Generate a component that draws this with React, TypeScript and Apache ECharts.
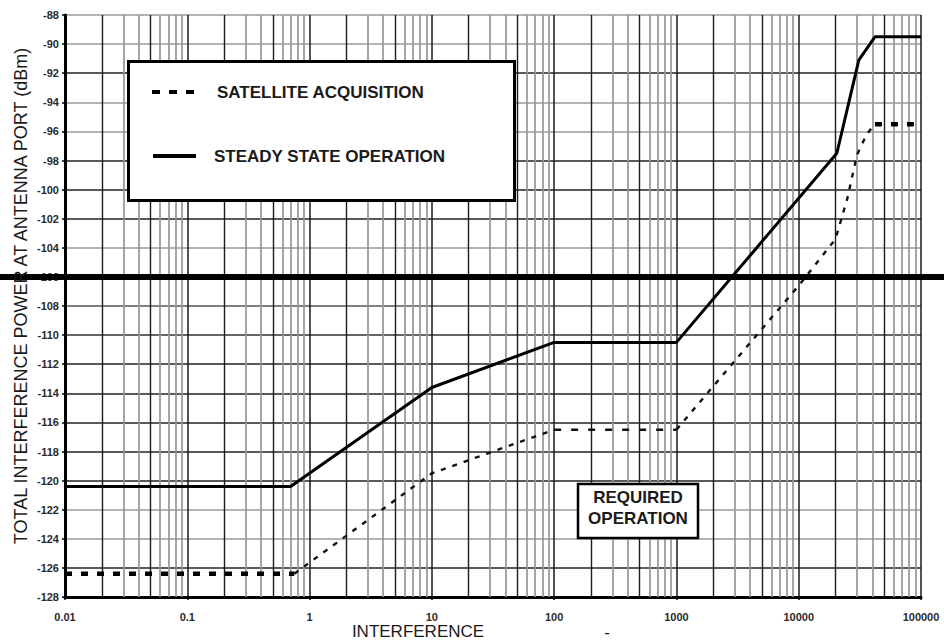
import React, { useEffect, useRef } from "react";
import * as echarts from "echarts";

// ---- data ----
const xMin = 0.01;
const xMax = 100000;
const yMin = -128;
const yMax = -88;
const yStep = 2;
const decadeStarts = [0.01, 0.1, 1, 10, 100, 1000, 10000];
const minorMultipliers = [2, 3, 4, 5, 6, 7, 8, 9];
const darkMinorMultipliers = [2, 5];

const steadyX = [0.01, 0.7, 10, 100, 1000, 20500, 31000, 42000, 100000];
const steadyY = [-120.4, -120.4, -113.6, -110.5, -110.5, -97.5, -91.1, -89.5, -89.5];

const satX = [0.01, 0.75, 10, 100, 1000, 10000, 20000, 25000, 30000, 36000, 42000, 100000];
const satY = [-126.4, -126.4, -119.5, -116.5, -116.5, -106.6, -103.4, -100.6, -97.6, -96.2, -95.5, -95.5];
// segments of the acquisition curve: [from index, to index, style name]
const satSegments: [number, number, string][] = [
  [0, 1, "heavy"],
  [1, 3, "dotted"],
  [3, 4, "medium"],
  [4, 10, "dotted"],
  [10, 11, "heavy"],
];

// horizontal grid colours, from -128 upward
const yGridColors = [
  "#111", "#222", "#9a9a9a", "#9a9a9a", "#222", "#222", "#222", "#222", "#222", "#333", "#555",
  "#111", "#9a9a9a", "#222", "#222", "#222", "#9a9a9a", "#9a9a9a", "#222", "#9a9a9a", "#9a9a9a",
];

const thresholdY = -106;
const legendLabels = ["SATELLITE ACQUISITION", "STEADY STATE OPERATION"];
const yTitle = "TOTAL INTERFERENCE POWER AT ANTENNA PORT (dBm)";
const xTitle = "INTERFERENCE";
const regionLabel = ["REQUIRED", "OPERATION"];

const FONT = '"Liberation Sans", Arial, Helvetica, sans-serif';

const segStyles: Record<string, any> = {
  heavy: { width: 4.5, type: [7, 9], color: "#000", cap: "butt" },
  medium: { width: 2.5, type: [7, 10], color: "#111", cap: "butt" },
  dotted: { width: 2.4, type: [5, 7], color: "#111", cap: "butt" },
};

function fmt(v: number) {
  return String(Number(v.toPrecision(6)));
}

export default function App() {
  const ref = useRef<HTMLDivElement>(null);

  useEffect(() => {
    document.body.style.margin = "0";
    if (!ref.current) return;
    const chart = echarts.init(ref.current, undefined, { renderer: "svg" });

    const minorLines: any[] = [];
    decadeStarts.forEach((d) => {
      minorMultipliers.forEach((m) => {
        const dark = darkMinorMultipliers.includes(m);
        minorLines.push({
          xAxis: Number((d * m).toPrecision(4)),
          lineStyle: {
            color: dark ? "#1c1c1c" : "#969696",
            width: dark ? 1.4 : 1.7,
            type: "solid",
          },
        });
      });
    });

    const satSeries = satSegments.map(([a, b, st], i) => ({
      type: "line",
      name: "SATELLITE ACQUISITION " + i,
      data: satX.slice(a, b + 1).map((x, k) => [x, satY[a + k]]),
      symbol: "none",
      lineStyle: segStyles[st],
      z: 5,
      silent: true,
    }));

    chart.setOption({
      animation: false,
      grid: { left: 65, right: 23, top: 15, bottom: 46 },
      xAxis: {
        type: "log",
        logBase: 10,
        min: xMin,
        max: xMax,
        splitNumber: 7,
        axisLine: { show: true, onZero: false, lineStyle: { color: "#000", width: 3 } },
        axisTick: { show: true, length: 3, lineStyle: { color: "#000", width: 1.5 } },
        axisLabel: {
          color: "#2a2a2a",
          fontSize: 11,
          fontWeight: "bold",
          fontFamily: FONT,
          margin: 14,
          formatter: (v: number) => fmt(v),
        },
        splitLine: { show: true, lineStyle: { color: "#1a1a1a", width: 1.5 } },
      },
      yAxis: {
        type: "value",
        min: yMin,
        max: yMax,
        interval: yStep,
        axisLine: { show: true, lineStyle: { color: "#000", width: 3 } },
        axisTick: { show: true, length: 3, lineStyle: { color: "#000", width: 1.5 } },
        axisLabel: {
          color: "#2a2a2a",
          fontSize: 11,
          fontWeight: "bold",
          fontFamily: FONT,
          margin: 6,
        },
        splitLine: { show: true, lineStyle: { color: yGridColors, width: 1.6 } },
      },
      series: [
        {
          type: "line",
          name: "grid",
          data: [],
          silent: true,
          z: 1,
          markLine: {
            silent: true,
            symbol: ["none", "none"],
            label: { show: false },
            animation: false,
            data: minorLines,
          },
        },
        {
          type: "line",
          name: "STEADY STATE OPERATION",
          data: steadyX.map((x, i) => [x, steadyY[i]]),
          symbol: "none",
          lineStyle: { color: "#000", width: 3 },
          z: 6,
          silent: true,
        },
        ...satSeries,
      ],
    });

    const yT = chart.convertToPixel({ yAxisIndex: 0 }, thresholdY) as number;
    const txt = (text: string, x: number, y: number, font: string, align = "left", extra: any = {}) => ({
      type: "text",
      x,
      y,
      z: 30,
      silent: true,
      ...extra,
      style: {
        text,
        font,
        fill: "#1a1a1a",
        textAlign: align,
        textVerticalAlign: "middle",
        align,
        verticalAlign: "middle",
      },
    });

    chart.setOption({
      graphic: [
        {
          type: "line",
          z: 10,
          silent: true,
          shape: { x1: 0, y1: yT, x2: 944, y2: yT },
          style: { stroke: "#000", lineWidth: 6 },
        },
        {
          type: "rect",
          z: 20,
          silent: true,
          shape: { x: 128.5, y: 61.5, width: 386, height: 139 },
          style: { fill: "#fff", stroke: "#000", lineWidth: 3 },
        },
        {
          type: "line",
          z: 25,
          silent: true,
          shape: { x1: 152, y1: 92, x2: 194, y2: 92 },
          style: { stroke: "#000", lineWidth: 4, lineDash: [8, 9] },
        },
        {
          type: "line",
          z: 25,
          silent: true,
          shape: { x1: 153, y1: 156, x2: 196, y2: 156 },
          style: { stroke: "#000", lineWidth: 4 },
        },
        txt(legendLabels[0], 217, 92, `bold 17px ${FONT}`),
        txt(legendLabels[1], 214, 156, `bold 17px ${FONT}`),
        {
          type: "rect",
          z: 20,
          silent: true,
          shape: { x: 578, y: 484, width: 120, height: 54 },
          style: { fill: "#fff", stroke: "#000", lineWidth: 2.5 },
        },
        txt(regionLabel[0], 638, 497, `bold 17px ${FONT}`, "center"),
        txt(regionLabel[1], 638, 518, `bold 17px ${FONT}`, "center"),
        txt(yTitle, 21, 296, `18px ${FONT}`, "center", { rotation: Math.PI / 2 }),
        txt(xTitle, 418, 631, `17px ${FONT}`, "center"),
        txt("-", 607, 632, `17px ${FONT}`, "center"),
      ],
    });

    return () => chart.dispose();
  }, []);

  return (
    <div
      ref={ref}
      style={{ position: "absolute", left: 0, top: 0, width: 944, height: 643, background: "#fff" }}
    />
  );
}
